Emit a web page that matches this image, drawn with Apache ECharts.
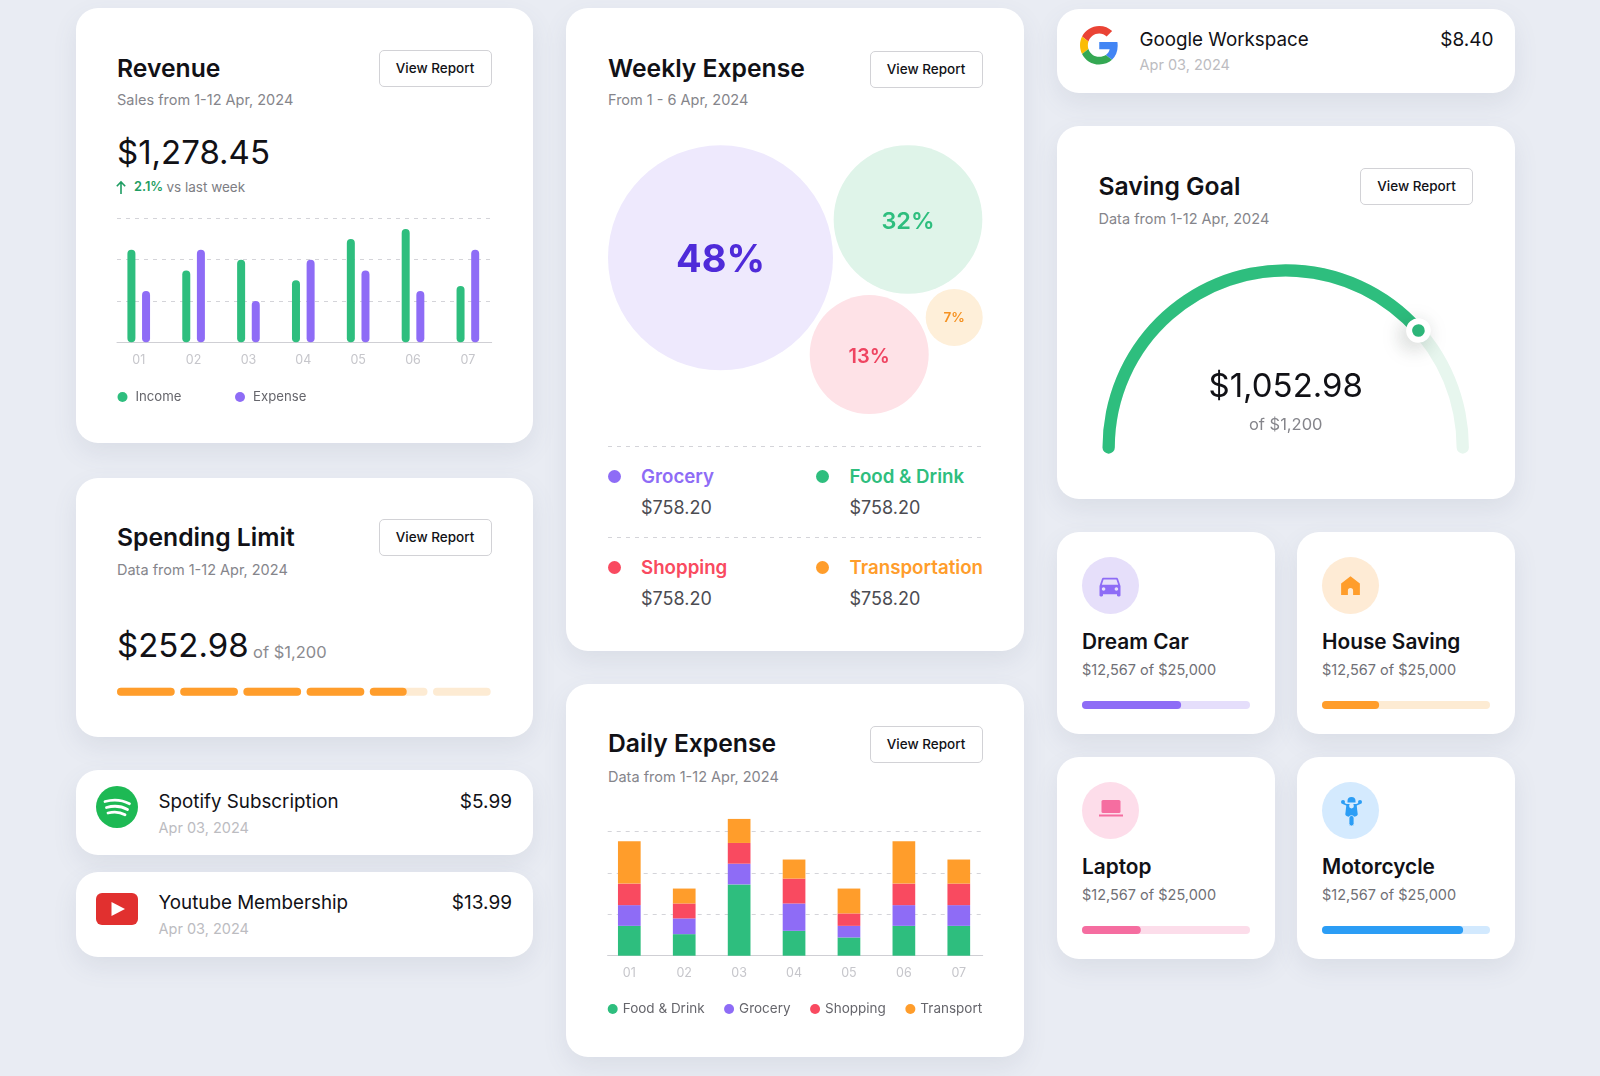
<!DOCTYPE html>
<html>
<head>
<meta charset="utf-8">
<title>Dashboard cards</title>
<script src="https://cdn.jsdelivr.net/npm/echarts@6/dist/echarts.min.js"></script>
<style>
html, body { margin: 0; padding: 0; }
body { width: 1600px; height: 1076px; overflow: hidden; position: relative; background: #e9ecf3; font-family: Inter, "Noto Sans", sans-serif; color: #111116; }
.card { position: absolute; background: #fff; border-radius: 22px; box-shadow: 0 10px 24px rgba(90, 100, 130, .1); }
.t { position: absolute; white-space: nowrap; line-height: 30px; height: 30px; }
.title { font-size: 24.7px; font-weight: 600; }
.sub { font-size: 14.5px; color: #85858b; }
.big { font-size: 33px; font-weight: 400; line-height: 44px; height: 44px; }
.btn { position: absolute; width: 111px; height: 35px; border: 1.3px solid #d2d2d6; border-radius: 5px; font-size: 13.5px; font-weight: 500; line-height: 35px; text-align: center; background: #fff; }
.name { font-size: 18.8px; font-weight: 400; }
.date { font-size: 14.5px; color: #bcbcc1; }
.amt { font-size: 19px; font-weight: 400; text-align: right; }
.goal { font-size: 20.8px; font-weight: 600; }
.goalsub { font-size: 14.5px; color: #707076; }
.wk { font-size: 18.7px; font-weight: 600; }
.wkv { font-size: 18px; color: #4c4c52; }
.dot { position: absolute; width: 13px; height: 13px; border-radius: 50%; }
.dash { position: absolute; left: 608px; width: 375px; height: 1px; background: repeating-linear-gradient(90deg, #d4d4d9 0 4px, transparent 4px 9px); }
.ic { position: absolute; border-radius: 50%; width: 57px; height: 57px; }
svg { position: absolute; }
.chart { position: absolute; }
</style>
</head>
<body>

<!-- left column -->
<div class="card" style="left:75.5px;top:8px;width:457.5px;height:435px"></div>
<div class="t title" style="left:117px;top:53px">Revenue</div>
<div class="btn" style="left:378.5px;top:49.5px">View Report</div>
<div class="t sub" style="left:117px;top:85px">Sales from 1-12 Apr, 2024</div>
<div class="t big" style="left:117px;top:129.5px">$1,278.45</div>
<svg style="left:114px;top:180px" width="14" height="15" viewBox="0 0 14 15"><path d="M7 14V2M2.8 6.2 7 2l4.2 4.2" fill="none" stroke="#1f9d63" stroke-width="1.6"/></svg>
<div class="t" style="left:134px;top:172px;font-size:12.8px;font-weight:600;color:#1f9d63">2.1%</div>
<div class="t" style="left:166.5px;top:172px;font-size:13.5px;color:#7d7d83">vs last week</div>
<div class="chart" id="revenue" style="left:100px;top:205px;width:410px;height:210px"></div>

<div class="card" style="left:75.5px;top:477.5px;width:457.5px;height:259px"></div>
<div class="t title" style="left:117px;top:522px">Spending Limit</div>
<div class="btn" style="left:378.5px;top:519px">View Report</div>
<div class="t sub" style="left:117px;top:555px">Data from 1-12 Apr, 2024</div>
<div class="t big" style="left:117px;top:623px">$252.98</div>
<div class="t" style="left:253px;top:637px;font-size:16.5px;color:#8b8b90">of $1,200</div>
<div class="chart" id="spending" style="left:110px;top:680px;width:390px;height:24px"></div>

<div class="card" style="left:75.5px;top:770px;width:457.5px;height:85px"></div>
<svg style="left:96px;top:786px" width="42" height="42" viewBox="0 0 42 42">
  <circle cx="21" cy="21" r="21" fill="#1db954"/>
  <path d="M9 15.5c8-2.3 17-1.7 24.5 2.2M10.5 21.5c7-2 15-1.4 21 2M12 27c5.8-1.5 12-1.1 17 1.8" fill="none" stroke="#fff" stroke-width="2.8" stroke-linecap="round"/>
</svg>
<div class="t name" style="left:158.5px;top:787px">Spotify Subscription</div>
<div class="t date" style="left:158.5px;top:813px">Apr 03, 2024</div>
<div class="t amt" style="right:1088px;top:787px">$5.99</div>

<div class="card" style="left:75.5px;top:871.5px;width:457.5px;height:85px"></div>
<svg style="left:96px;top:893px" width="42" height="32" viewBox="0 0 42 32">
  <rect width="42" height="32" rx="6" fill="#e1302f"/>
  <path d="M15.500 9 29 16 15.500 23z" fill="#fff"/>
</svg>
<div class="t name" style="left:158.5px;top:888px">Youtube Membership</div>
<div class="t date" style="left:158.5px;top:914px">Apr 03, 2024</div>
<div class="t amt" style="right:1088px;top:888px">$13.99</div>

<!-- middle column -->
<div class="card" style="left:566px;top:8px;width:458px;height:643px"></div>
<div class="t title" style="left:608px;top:53px">Weekly Expense</div>
<div class="btn" style="left:869.5px;top:50.500px">View Report</div>
<div class="t sub" style="left:608px;top:85px">From 1 - 6 Apr, 2024</div>
<div class="chart" id="weekly" style="left:590px;top:130px;width:420px;height:300px"></div>
<div class="dash" style="top:446px"></div>
<div class="dot" style="left:607.5px;top:469.500px;background:#8e6cf6"></div>
<div class="t wk" style="left:641px;top:462px;color:#8e6cf6">Grocery</div>
<div class="t wkv" style="left:641px;top:493px">$758.20</div>
<div class="dot" style="left:815.5px;top:469.500px;background:#2ebe7e"></div>
<div class="t wk" style="left:849.5px;top:462px;color:#2ebe7e">Food &amp; Drink</div>
<div class="t wkv" style="left:849.5px;top:493px">$758.20</div>
<div class="dash" style="top:537px"></div>
<div class="dot" style="left:607.5px;top:560.500px;background:#f94a60"></div>
<div class="t wk" style="left:641px;top:553px;color:#f94a60">Shopping</div>
<div class="t wkv" style="left:641px;top:584px">$758.20</div>
<div class="dot" style="left:815.5px;top:560.500px;background:#ff9d2b"></div>
<div class="t wk" style="left:849.5px;top:553px;color:#ff9d2b">Transportation</div>
<div class="t wkv" style="left:849.5px;top:584px">$758.20</div>

<div class="card" style="left:566px;top:684px;width:458px;height:373px"></div>
<div class="t title" style="left:608px;top:728px">Daily Expense</div>
<div class="btn" style="left:869.5px;top:726px">View Report</div>
<div class="t sub" style="left:608px;top:762px">Data from 1-12 Apr, 2024</div>
<div class="chart" id="daily" style="left:590px;top:780px;width:420px;height:260px"></div>

<!-- right column -->
<div class="card" style="left:1057px;top:8.500px;width:457.500px;height:84px"></div>
<svg style="left:1079.500px;top:26px" width="38.500" height="38.500" viewBox="0 0 48 48">
  <path fill="#ea4335" d="M24 9.500c3.540 0 6.710 1.220 9.210 3.600l6.850-6.850C35.900 2.380 30.470 0 24 0 14.620 0 6.510 5.380 2.560 13.220l7.980 6.190C12.430 13.720 17.740 9.500 24 9.500z"/>
  <path fill="#4285f4" d="M46.980 24.550c0-1.570-.15-3.090-.38-4.550H24v9.020h12.940c-.58 2.960-2.260 5.480-4.780 7.180l7.730 6c4.510-4.180 7.090-10.360 7.090-17.650z"/>
  <path fill="#fbbc05" d="M10.530 28.590c-.48-1.450-.76-2.990-.76-4.590s.27-3.140.76-4.590l-7.980-6.190C.92 16.460 0 20.120 0 24c0 3.880.92 7.540 2.560 10.780l7.970-6.190z"/>
  <path fill="#34a853" d="M24 48c6.480 0 11.930-2.130 15.890-5.810l-7.730-6c-2.150 1.450-4.920 2.300-8.160 2.300-6.260 0-11.570-4.220-13.470-9.910l-7.980 6.190C6.510 42.620 14.620 48 24 48z"/>
</svg>
<div class="t name" style="left:1139.500px;top:24.5px">Google Workspace</div>
<div class="t date" style="left:1139.500px;top:50px">Apr 03, 2024</div>
<div class="t amt" style="right:106.500px;top:24.5px">$8.40</div>

<div class="card" style="left:1057px;top:126px;width:457.500px;height:373px"></div>
<div class="t title" style="left:1098.5px;top:171px">Saving Goal</div>
<div class="btn" style="left:1360px;top:167.500px">View Report</div>
<div class="t sub" style="left:1098.5px;top:203.5px">Data from 1-12 Apr, 2024</div>
<div class="chart" id="gauge" style="left:1080px;top:250px;width:412px;height:230px"></div>

<div class="card" style="left:1057px;top:532px;width:217.500px;height:202px"></div>
<div class="card" style="left:1297px;top:532px;width:217.500px;height:202px"></div>
<div class="card" style="left:1057px;top:757px;width:217.500px;height:201.500px"></div>
<div class="card" style="left:1297px;top:757px;width:217.500px;height:201.500px"></div>

<div class="ic" style="left:1082px;top:557px;background:#e6dffa"></div>
<svg style="left:1096px;top:572px" width="28" height="28" viewBox="0 0 24 24"><path fill="#8e6cf6" d="M18.920 6.010C18.720 5.420 18.160 5 17.500 5h-11c-.66 0-1.210.42-1.420 1.010L3 12v8c0 .55.45 1 1 1h1c.55 0 1-.45 1-1v-1h12v1c0 .55.45 1 1 1h1c.55 0 1-.45 1-1v-8l-2.080-5.990zM6.500 16c-.83 0-1.500-.67-1.500-1.500S5.670 13 6.500 13s1.500.67 1.500 1.500S7.330 16 6.500 16zm11 0c-.83 0-1.500-.67-1.500-1.500s.67-1.500 1.500-1.500 1.500.67 1.500 1.500-.67 1.500-1.500 1.500zM5 11l1.500-4.500h11L19 11H5z"/></svg>
<div class="t goal" style="left:1082px;top:627px">Dream Car</div>
<div class="t goalsub" style="left:1082px;top:655px">$12,567 of $25,000</div>
<div class="chart" id="goal0" style="left:1082px;top:697px;width:168px;height:16px"></div>

<div class="ic" style="left:1322px;top:557px;background:#feebd5"></div>
<svg style="left:1338px;top:573px" width="25" height="25" viewBox="0 0 24 24"><path fill="#ff9d2b" d="M12 3 3 10v11h6.500v-4a2.500 2.500 0 0 1 5 0v4H21V10z"/></svg>
<div class="t goal" style="left:1322px;top:627px">House Saving</div>
<div class="t goalsub" style="left:1322px;top:655px">$12,567 of $25,000</div>
<div class="chart" id="goal1" style="left:1322px;top:697px;width:168px;height:16px"></div>

<div class="ic" style="left:1082px;top:782px;background:#fdddea"></div>
<svg style="left:1098.500px;top:800px" width="24" height="18" viewBox="0 0 24 18"><rect x="2.500" y="0" width="19" height="13" rx="1.500" fill="#f56da0"/><rect x="0" y="14.500" width="24" height="2" fill="#f56da0"/></svg>
<div class="t goal" style="left:1082px;top:852px">Laptop</div>
<div class="t goalsub" style="left:1082px;top:880px">$12,567 of $25,000</div>
<div class="chart" id="goal2" style="left:1082px;top:922px;width:168px;height:16px"></div>

<div class="ic" style="left:1322px;top:782px;background:#d4eafe"></div>
<svg style="left:1340.5px;top:796px" width="21" height="30" viewBox="0 0 21 30">
  <path fill="#2b9df5" d="M6.500 5a4 4 0 0 1 8 0v1.500h-8z"/>
  <path d="M2.500 7.500 6 9h9l3.500-1.500" fill="none" stroke="#2b9df5" stroke-width="1.6" stroke-linecap="round"/>
  <circle cx="2" cy="6" r="2" fill="#2b9df5"/><circle cx="19" cy="6" r="2" fill="#2b9df5"/>
  <path fill="#2b9df5" d="M5.500 8h10l1.200 10c.2 2-2.700 3-6.200 3s-6.400-1-6.200-3z"/>
  <circle cx="10.500" cy="10" r="2.400" fill="#d4eafe"/>
  <rect x="8" y="19.500" width="5" height="10.500" rx="2.500" fill="#2b9df5" stroke="#d4eafe" stroke-width=".8"/>
</svg>
<div class="t goal" style="left:1322px;top:852px">Motorcycle</div>
<div class="t goalsub" style="left:1322px;top:880px">$12,567 of $25,000</div>
<div class="chart" id="goal3" style="left:1322px;top:922px;width:168px;height:16px"></div>

<script>
// data
var days = ['01', '02', '03', '04', '05', '06', '07'];
var revenueIncome = [112, 87, 100, 75, 125, 137, 68];
var revenueExpense = [62, 112, 50, 100, 87, 62, 112];

var dailyFood = [36, 26, 86, 30, 22, 36, 36];
var dailyGrocery = [25, 19, 25, 33, 14, 25, 25];
var dailyShopping = [26, 18, 25, 30, 15, 26, 26];
var dailyTransport = [51, 18, 29, 23, 30, 51, 29];

var weeklyNames = ['Grocery', 'Food & Drink', 'Shopping', 'Transportation'];
var weeklyShare = [48, 32, 13, 7];

var spendingSegments = [100, 100, 100, 100, 64, 0];
var savingArcShare = 77;
var goalNames = ['Dream Car', 'House Saving', 'Laptop', 'Motorcycle'];
var goalShare = [59, 34, 35, 84];

var GREEN = '#2ebe7e', PURPLE = '#8e6cf6', RED = '#f94a60', ORANGE = '#ff9d2b';
var FONT = 'Inter';

// lines come from a grid narrower than the bar grid, the bands in the picture overrun the rule
function barBase(lineGrid, barGrid, maxValue) {
  return {
    animation: false,
    textStyle: { fontFamily: FONT },
    grid: [lineGrid, barGrid],
    xAxis: [
      { type: 'category', gridIndex: 0, data: days, axisLabel: { show: false }, axisTick: { show: false },
        axisLine: { lineStyle: { color: '#cfcfd4', width: 1 } } },
      { type: 'category', gridIndex: 1, data: days, axisLine: { show: false }, axisTick: { show: false },
        axisLabel: { color: '#c6c6cb', fontSize: 12.5, margin: 11, fontFamily: FONT } }
    ],
    yAxis: [
      { type: 'value', gridIndex: 0, min: 0, max: maxValue, interval: 50, axisLabel: { show: false },
        axisLine: { show: false }, axisTick: { show: false },
        splitLine: { showMaxLine: maxValue === 150, lineStyle: { color: '#d4d4d9', type: [4, 5], width: 1 } } },
      { type: 'value', gridIndex: 1, min: 0, max: maxValue, interval: 50, show: false }
    ]
  };
}

var revenueOption = barBase(
  { left: 17, top: 13.3, width: 374.7, height: 124 },
  { left: 11.3, top: 13.3, width: 384, height: 124 },
  150
);
revenueOption.legend = {
  left: 17.5, top: 185.5, padding: 0, itemWidth: 16, itemHeight: 10, itemGap: 53.5, icon: 'circle',
  textStyle: { color: '#66666c', fontSize: 13.2, fontFamily: FONT }
};
revenueOption.series = [
  { name: 'Income', type: 'bar', xAxisIndex: 1, yAxisIndex: 1, data: revenueIncome, barWidth: 8, barGap: '83%',
    itemStyle: { color: GREEN, borderRadius: 4 } },
  { name: 'Expense', type: 'bar', xAxisIndex: 1, yAxisIndex: 1, data: revenueExpense, barWidth: 8,
    itemStyle: { color: PURPLE, borderRadius: 4 } }
];
echarts.init(document.getElementById('revenue')).setOption(revenueOption);

var dailyOption = barBase(
  { left: 17.7, top: 9.9, width: 375, height: 165.8 },
  { left: 11.85, top: 9.9, width: 384.4, height: 165.8 },
  200
);
dailyOption.legend = {
  left: 17.7, top: 222, padding: 0, itemWidth: 10, itemHeight: 10, itemGap: 19.5, icon: 'circle',
  textStyle: { color: '#66666c', fontSize: 13.5, fontFamily: FONT }
};
function dailySeries(name, values, color) {
  return { name: name, type: 'bar', stack: 'day', xAxisIndex: 1, yAxisIndex: 1, data: values, barWidth: 22.7, itemStyle: { color: color } };
}
dailyOption.series = [
  dailySeries('Food & Drink', dailyFood, GREEN),
  dailySeries('Grocery', dailyGrocery, PURPLE),
  dailySeries('Shopping', dailyShopping, RED),
  dailySeries('Transport', dailyTransport, ORANGE)
];
echarts.init(document.getElementById('daily')).setOption(dailyOption);

// bubbles: hand packed in the picture, so the spots and sizes are layout and sit here
var bubbleSpots = [[130.5, 127.8], [318, 89.5], [279.2, 224.6], [364.2, 187.4]];
var bubbleSizes = [225, 148.7, 119, 57];
var bubbleFill = ['#eee9fd', '#dff4e9', '#fee2e7', '#feefd9'];
var bubbleText = ['#4f2bd9', '#2ebe7e', '#ef4461', '#f59121'];
var bubbleFont = [38, 23.5, 20, 13.5];
var bubbleWeight = [700, 600, 600, 600];
var bubbleNudge = [3, 2, 2, 1];

echarts.init(document.getElementById('weekly')).setOption({
  animation: false,
  grid: { left: 0, top: 0, width: 420, height: 300 },
  xAxis: { type: 'value', min: 0, max: 420, show: false },
  yAxis: { type: 'value', min: 0, max: 300, inverse: true, show: false },
  series: [{
    type: 'scatter',
    data: weeklyShare.map(function (share, i) {
      return {
        name: weeklyNames[i],
        value: bubbleSpots[i],
        symbolSize: bubbleSizes[i],
        itemStyle: { color: bubbleFill[i], opacity: 1 },
        label: {
          show: true, position: 'inside', formatter: share + '%', offset: [0, bubbleNudge[i]],
          color: bubbleText[i], fontSize: bubbleFont[i], fontWeight: bubbleWeight[i], fontFamily: FONT
        }
      };
    })
  }]
});

var gaugeCommon = {
  type: 'gauge',
  center: [205.7, 197.5],
  radius: 183.2,
  startAngle: 180,
  endAngle: 0,
  min: 0,
  max: 100,
  axisTick: { show: false },
  splitLine: { show: false },
  axisLabel: { show: false },
  anchor: { show: false }
};
echarts.init(document.getElementById('gauge')).setOption({
  animation: false,
  series: [
    Object.assign({}, gaugeCommon, {
      axisLine: { roundCap: true, lineStyle: { width: 12.3, color: [[1, '#e7f6ee']] } },
      progress: { show: true, roundCap: true, width: 12.3, itemStyle: { color: GREEN } },
      pointer: { show: false },
      title: { color: '#85858b', fontSize: 16.5, fontFamily: FONT, offsetCenter: [0, -22.5] },
      detail: { color: '#111116', fontSize: 33, fontFamily: FONT, fontWeight: 400, offsetCenter: [0, -60.5], valueAnimation: false, formatter: function () { return '$1,052.98'; } },
      data: [{ value: savingArcShare, name: 'of $1,200' }]
    }),
    // thumb sits in its own series, raised so the arc cap stays under it
    Object.assign({}, gaugeCommon, {
      z: 10,
      axisLine: { show: false },
      pointer: {
        icon: 'circle', width: 18.7, length: 18.7, offsetCenter: [0, -167.6],
        itemStyle: { color: GREEN, borderColor: '#fff', borderWidth: 6, shadowBlur: 22, shadowColor: 'rgba(40,60,50,.22)', shadowOffsetX: -4, shadowOffsetY: 5 }
      },
      title: { show: false },
      detail: { show: false },
      data: [{ value: savingArcShare }]
    })
  ]
});

// six dashes, one small grid each
var segmentGrids = [], segmentX = [], segmentY = [], segmentSeries = [];
spendingSegments.forEach(function (share, i) {
  segmentGrids.push({ left: 7 + i * 63.2, top: 7.7, width: 57.7, height: 8 });
  segmentX.push({ type: 'value', gridIndex: i, min: 0, max: 100, show: false });
  segmentY.push({ type: 'category', gridIndex: i, data: ['segment'], show: false });
  segmentSeries.push({
    type: 'bar', xAxisIndex: i, yAxisIndex: i, data: [share], barWidth: 8,
    showBackground: true, backgroundStyle: { color: '#fdebd3', borderRadius: 4 },
    itemStyle: { color: ORANGE, borderRadius: 4 }
  });
});
echarts.init(document.getElementById('spending')).setOption({
  animation: false, grid: segmentGrids, xAxis: segmentX, yAxis: segmentY, series: segmentSeries
});

var goalFill = [PURPLE, ORANGE, '#f56da0', '#2b9df5'];
var goalTrack = ['#e5defb', '#fdebd3', '#fcddea', '#d2e9fe'];
goalShare.forEach(function (share, i) {
  echarts.init(document.getElementById('goal' + i)).setOption({
    animation: false,
    grid: { left: 0, right: 0, top: 4, height: 8 },
    xAxis: { type: 'value', min: 0, max: 100, show: false },
    yAxis: { type: 'category', data: [goalNames[i]], show: false },
    series: [{
      type: 'bar', data: [share], barWidth: 8,
      showBackground: true, backgroundStyle: { color: goalTrack[i], borderRadius: 4 },
      itemStyle: { color: goalFill[i], borderRadius: 4 }
    }]
  });
});
</script>
</body>
</html>
